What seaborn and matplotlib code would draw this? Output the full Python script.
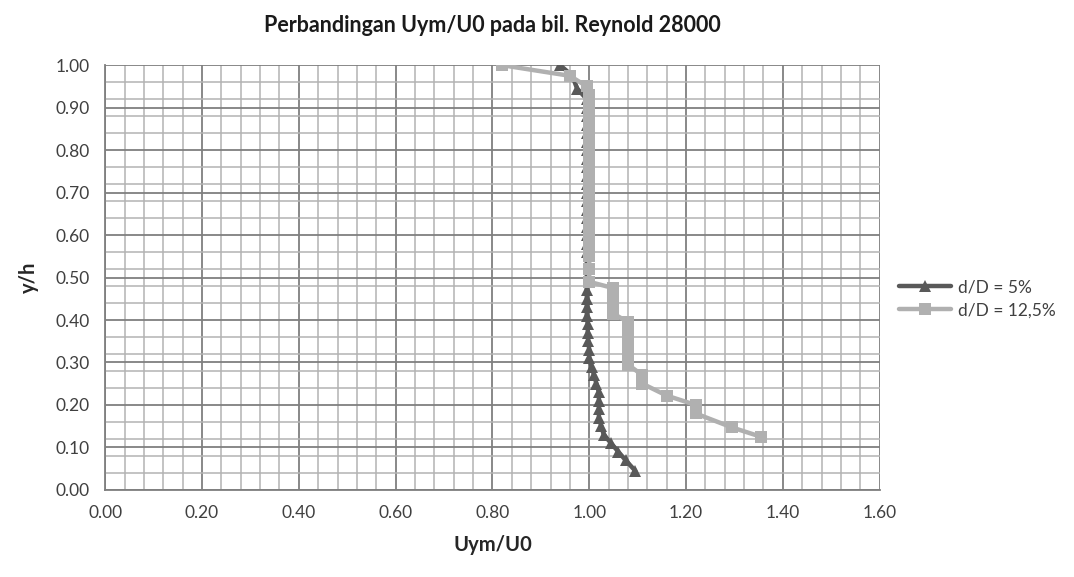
import pandas as pd
import numpy as np
import matplotlib.pyplot as plt
import seaborn as sns
from matplotlib.ticker import MultipleLocator

# ── Data ─────────────────────────────────────────────────────
# d/D = 5% (dark triangles)
u_5 = [0.94, 0.965, 0.975, 0.995, 0.995, 0.995, 0.995, 0.995, 0.995, 0.995,
       0.995, 0.995, 0.995, 0.995, 0.995, 0.995, 0.995, 0.995, 0.995, 0.995,
       0.995, 0.995, 0.995, 0.995, 0.995, 0.995, 0.997, 0.997, 0.998, 1.0,
       1.0, 1.005, 1.01, 1.015, 1.02, 1.02, 1.02, 1.02, 1.025, 1.03, 1.045,
       1.06, 1.075, 1.095]
y_5 = [1.00, 0.975, 0.945, 0.92, 0.90, 0.88, 0.86, 0.84, 0.82, 0.80,
       0.78, 0.76, 0.74, 0.72, 0.70, 0.68, 0.66, 0.64, 0.62, 0.60,
       0.58, 0.56, 0.47, 0.45, 0.43, 0.41, 0.39, 0.37, 0.35, 0.33,
       0.31, 0.29, 0.27, 0.25, 0.23, 0.21, 0.19, 0.17, 0.15, 0.13, 0.11,
       0.09, 0.07, 0.045]

# d/D = 12,5% (light squares)
u_125 = [0.82, 0.96, 0.995, 1.0, 1.0, 1.0, 1.0, 1.0, 1.0, 1.0, 1.0, 1.0,
         1.0, 1.0, 1.0, 1.0, 1.0, 1.0, 1.0, 1.0, 1.0, 1.0, 1.0, 1.0, 1.0,
         1.05, 1.05, 1.05, 1.05, 1.08, 1.08, 1.08, 1.08, 1.08, 1.08,
         1.11, 1.11, 1.16, 1.22, 1.22, 1.295, 1.355]
y_125 = [1.00, 0.975, 0.95, 0.93, 0.91, 0.89, 0.87, 0.85, 0.83, 0.81, 0.79,
         0.77, 0.75, 0.73, 0.71, 0.69, 0.67, 0.65, 0.63, 0.61, 0.59, 0.57,
         0.55, 0.52, 0.49,
         0.475, 0.455, 0.435, 0.415, 0.395, 0.375, 0.355, 0.335, 0.315, 0.295,
         0.27, 0.25, 0.222, 0.20, 0.18, 0.147, 0.125]

labels = ['d/D = 5%', 'd/D = 12,5%']

df = pd.concat([
    pd.DataFrame({'u': u_5, 'yh': y_5, 'series': labels[0]}),
    pd.DataFrame({'u': u_125, 'yh': y_125, 'series': labels[1]}),
], ignore_index=True)

# ── Plot ─────────────────────────────────────────────────────
sns.set_style('white')
plt.rcParams['font.family'] = ['Lato', 'DejaVu Sans']

fig, ax = plt.subplots(figsize=(10.74, 5.77), dpi=100)
fig.subplots_adjust(left=0.098, right=0.819, top=0.887, bottom=0.151)

sns.lineplot(data=df, x='u', y='yh', hue='series', style='series',
             markers=['^', 's'], dashes=False, sort=False, estimator=None,
             palette=['#595959', '#b0b0b0'], linewidth=3.2, markersize=8.5,
             markeredgewidth=0, ax=ax, zorder=3)

ax.set_xlim(0, 1.6)
ax.set_ylim(0, 1.0)
ax.xaxis.set_major_locator(MultipleLocator(0.2))
ax.xaxis.set_minor_locator(MultipleLocator(0.04))
ax.yaxis.set_major_locator(MultipleLocator(0.1))
ax.yaxis.set_minor_locator(MultipleLocator(0.04))
ax.xaxis.set_major_formatter(lambda v, p: f'{v:.2f}')
ax.yaxis.set_major_formatter(lambda v, p: f'{v:.2f}')

ax.grid(which='major', color='#7f7f7f', linewidth=1.3)
ax.grid(which='minor', color='#b3b3b3', linewidth=1.1)
ax.set_axisbelow(True)

for s in ['top', 'right']:
    ax.spines[s].set_visible(False)
for s in ['left', 'bottom']:
    ax.spines[s].set_color('#7f7f7f')
    ax.spines[s].set_linewidth(1.3)

ax.tick_params(which='major', length=5, color='#7f7f7f', labelsize=12.5,
               labelcolor='#404040', pad=6)
ax.tick_params(which='minor', length=0)

ax.set_xlabel('Uym/U0', fontsize=14.5, fontweight='bold', color='#262626', labelpad=10)
ax.set_ylabel('y/h', fontsize=14.5, fontweight='bold', color='#262626', labelpad=12)
ax.set_title('Perbandingan Uym/U0 pada bil. Reynold 28000', fontsize=15.5,
             fontweight='bold', color='#1a1a1a', pad=24)

leg = ax.legend(loc='center left', bbox_to_anchor=(1.005, 0.45), frameon=False,
                fontsize=12.5, handlelength=3.0, handletextpad=0.4,
                labelspacing=0.4)
for t in leg.get_texts():
    t.set_color('#404040')

plt.savefig('out.png', dpi=100)
